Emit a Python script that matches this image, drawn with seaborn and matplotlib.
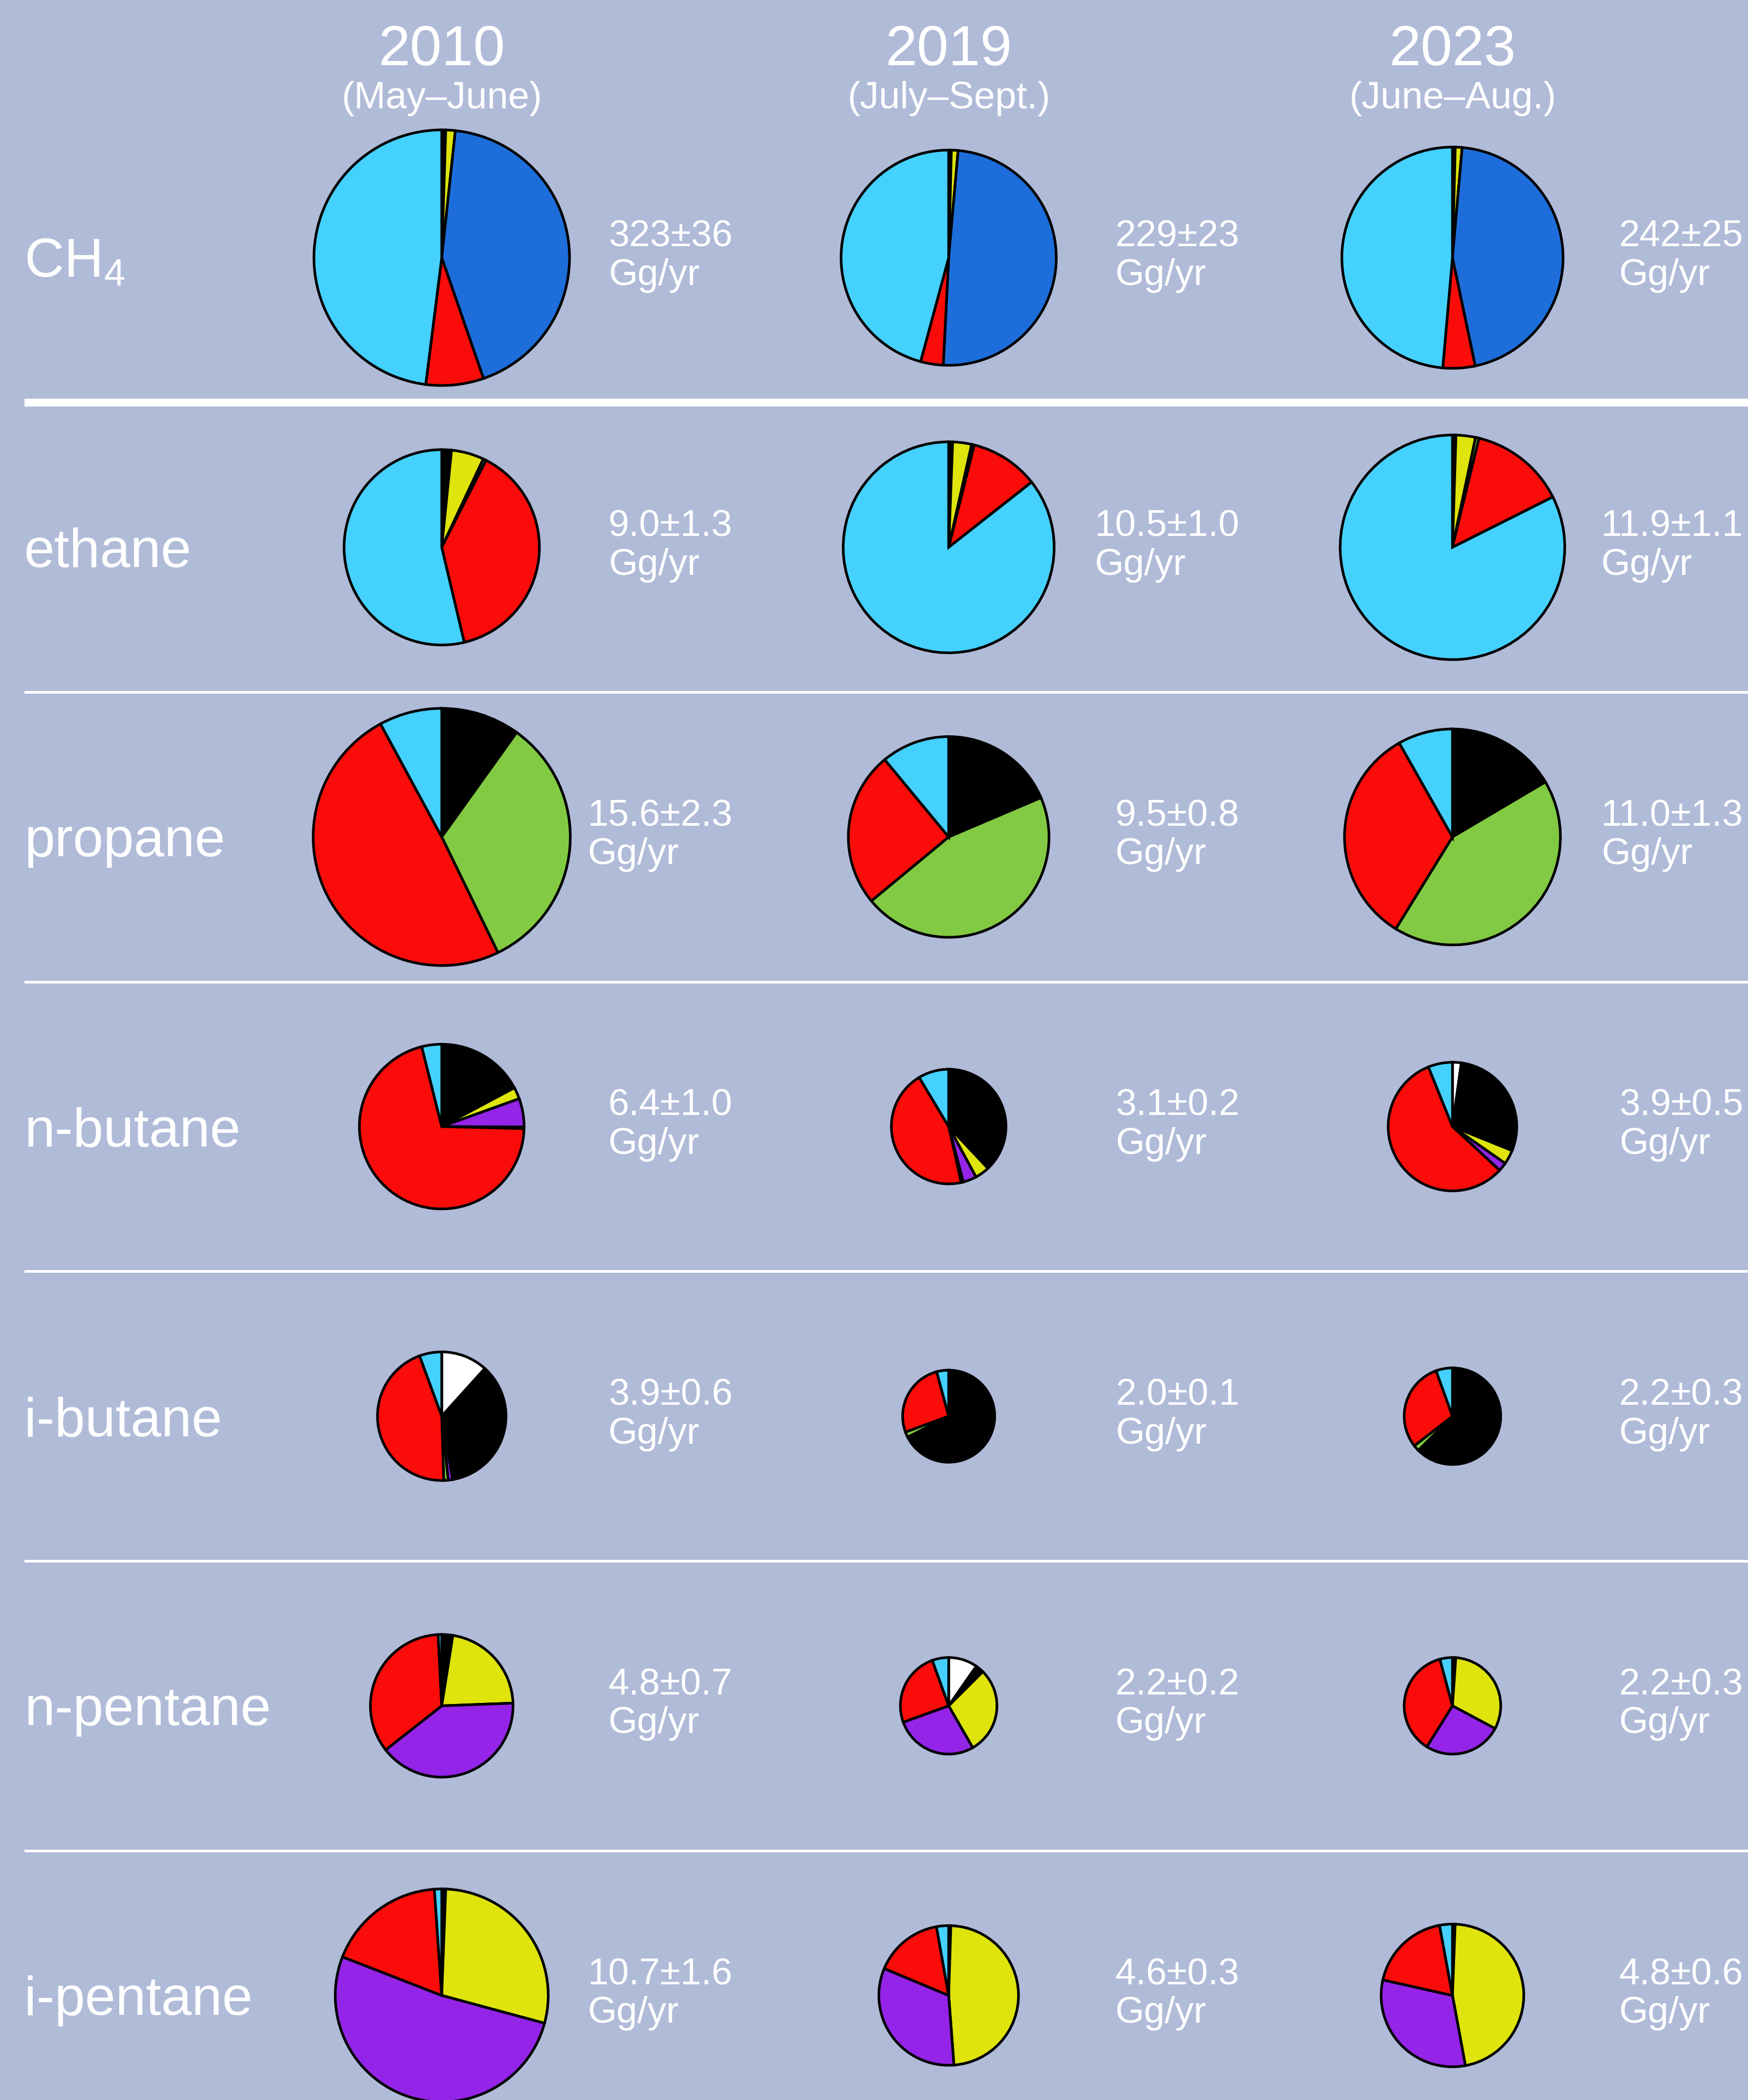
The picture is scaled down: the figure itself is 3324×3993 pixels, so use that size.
import numpy as np
import pandas as pd
import matplotlib
matplotlib.use("Agg")
import matplotlib.pyplot as plt
import seaborn as sns

# ---------------------------------------------------------------- data
years = ["2010", "2019", "2023"]
periods = ["(May–June)", "(July–Sept.)", "(June–Aug.)"]

species = ["CH4", "ethane", "propane", "n-butane", "i-butane", "n-pentane", "i-pentane"]
species_labels = ["CH$_\\mathregular{4}$", "ethane", "propane", "n-butane",
                  "i-butane", "n-pentane", "i-pentane"]
decimals = [0, 1, 1, 1, 1, 1, 1]

# total emission and uncertainty (Gg/yr) per species, one list per campaign
total_2010 = [323, 9.0, 15.6, 6.4, 3.9, 4.8, 10.7]
err_2010 = [36, 1.3, 2.3, 1.0, 0.6, 0.7, 1.6]
total_2019 = [229, 10.5, 9.5, 3.1, 2.0, 2.2, 4.6]
err_2019 = [23, 1.0, 0.8, 0.2, 0.1, 0.2, 0.3]
total_2023 = [242, 11.9, 11.0, 3.9, 2.2, 2.2, 4.8]
err_2023 = [25, 1.1, 1.3, 0.5, 0.3, 0.3, 0.6]

# source sectors, drawn clockwise from 12 o'clock in this order
sources = ["white", "black", "yellow", "purple", "green", "blue", "red", "cyan"]
source_colors = ["#ffffff", "#000000", "#dee40c", "#9424e8",
                 "#82ca43", "#1d6edb", "#f90c09", "#45d1fe"]

# source shares (%) per campaign: 2010, 2019, 2023
shares_ch4 = [[0, 0.5, 1.2, 0, 0, 43.0, 7.3, 48.0],
              [0, 0.4, 1.0, 0, 0, 49.4, 3.4, 45.8],
              [0, 0.4, 1.0, 0, 0, 45.3, 4.7, 48.6]]
shares_ethane = [[0, 1.6, 5.4, 0, 0.5, 0, 38.8, 53.7],
                 [0, 0.6, 2.9, 0, 0.4, 0, 10.5, 85.6],
                 [0, 0.5, 2.8, 0, 0.5, 0, 13.8, 82.4]]
shares_propane = [[0, 9.6, 0.3, 0, 32.9, 0, 49.3, 7.9],
                  [0, 18.3, 0.3, 0, 45.4, 0, 25.0, 11.0],
                  [0, 16.2, 0.3, 0, 42.3, 0, 33.0, 8.2]]
shares_nbutane = [[0, 17.2, 2.3, 5.6, 0.3, 0, 70.7, 3.9],
                  [0.8, 37.2, 4.1, 3.8, 0.6, 0, 44.9, 8.6],
                  [2.2, 28.9, 3.6, 2.2, 0, 0, 57.0, 6.1]]
shares_ibutane = [[11.7, 35.6, 0, 1.1, 1.1, 0, 44.9, 5.6],
                  [0, 67.5, 0, 0, 1.9, 0, 26.4, 4.2],
                  [0, 62.5, 0, 0, 2.0, 0, 30.0, 5.5]]
shares_npentane = [[0, 2.5, 21.9, 40.0, 0, 0, 34.8, 0.8],
                   [9.7, 2.8, 29.2, 27.8, 0, 0, 25.0, 5.5],
                   [0, 1.1, 31.7, 26.1, 0, 0, 36.9, 4.2]]
shares_ipentane = [[0, 0.6, 28.6, 51.7, 0, 0, 18.0, 1.1],
                   [0, 0.5, 48.3, 32.5, 0, 0, 15.9, 2.8],
                   [0, 0.6, 46.5, 31.4, 0, 0, 18.6, 2.9]]

shares = [shares_ch4, shares_ethane, shares_propane, shares_nbutane,
          shares_ibutane, shares_npentane, shares_ipentane]

# long table of every wedge
records = []
totals = [total_2010, total_2019, total_2023]
errs = [err_2010, err_2019, err_2023]
for i, sp in enumerate(species):
    for j, yr in enumerate(years):
        for k, src in enumerate(sources):
            records.append(dict(species=sp, year=yr, source=src,
                                share=shares[i][j][k],
                                total=totals[j][i], err=errs[j][i]))
df = pd.DataFrame.from_records(records)

# ---------------------------------------------------------------- style
BG = "#b0bbd8"
sns.set_theme(style="white", rc={"axes.facecolor": BG, "figure.facecolor": BG})
plt.rcParams["font.family"] = ["Liberation Sans", "DejaVu Sans"]
palette = dict(zip(sources, sns.color_palette(source_colors)))

W, H, DPI = 3324, 3993, 100
fig = plt.figure(figsize=(W / DPI, H / DPI), dpi=DPI, facecolor=BG)
ax = fig.add_axes([0, 0, 1, 1])
ax.set_facecolor(BG)


def Y(py):
    """pixel row (from top) -> data y"""
    return H - py


col_x = [840, 1804, 2762]
row_y = [490 + 550.7 * i for i in range(len(species))]
# pie radius grows with sqrt of the total emission
scale_ch4 = 13.52
scale_nmhc = 61.9
edge_lw = 3.6

# ---------------------------------------------------------------- pies
for i, sp in enumerate(species):
    k = scale_ch4 if sp == "CH4" else scale_nmhc
    for j, yr in enumerate(years):
        sub = df[(df.species == sp) & (df.year == yr) & (df.share > 0)]
        radius = k * np.sqrt(sub.total.iloc[0])
        ax.pie(sub.share.values,
               colors=[palette[s] for s in sub.source],
               startangle=90, counterclock=False,
               center=(col_x[j], Y(row_y[i])), radius=radius,
               wedgeprops=dict(edgecolor="black", linewidth=edge_lw),
               frame=True)

        d = decimals[i]
        label = f"{sub.total.iloc[0]:.{d}f}±{sub.err.iloc[0]:.{d}f}\nGg/yr"
        # baseline of the unit line sits just below the pie centre
        ax.text(col_x[j] + 553, Y(row_y[i] + 52), label, color="white",
                fontsize=51, ha="right", va="baseline",
                multialignment="left", linespacing=1.14)

    ax.text(46, Y(row_y[i] + 37), species_labels[i], color="white",
            fontsize=75, ha="left", va="baseline")

# ---------------------------------------------------------------- headers
for j, (yr, per) in enumerate(zip(years, periods)):
    ax.text(col_x[j], Y(124), yr, color="white", fontsize=78,
            ha="center", va="baseline")
    ax.text(col_x[j], Y(206), per, color="white", fontsize=52,
            ha="center", va="baseline")

# ---------------------------------------------------------------- dividers
for i in range(len(species) - 1):
    yline = (row_y[i] + row_y[i + 1]) / 2
    lw = 10.8 if i == 0 else 3.6
    ax.plot([46, W], [Y(yline), Y(yline)], color="white", lw=lw,
            solid_capstyle="butt")

ax.set_xlim(0, W)
ax.set_ylim(0, H)
ax.set_aspect("equal")
ax.axis("off")

fig.savefig("out.png", dpi=DPI, facecolor=BG)
